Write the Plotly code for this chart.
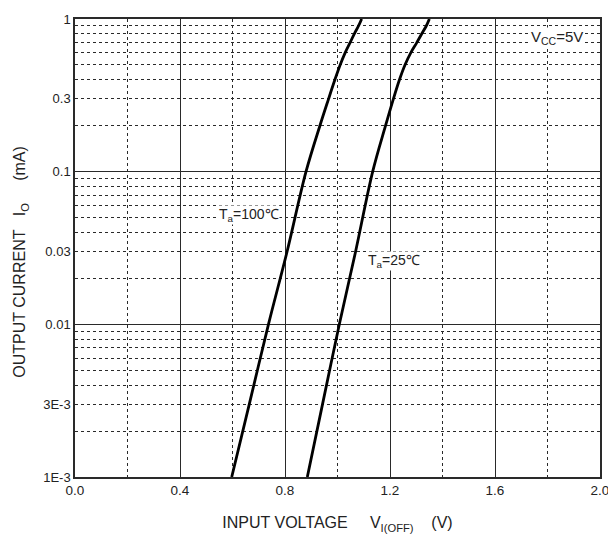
import math
import plotly.graph_objects as go

# Output current (mA) sample points
current_ma = [0.001, 0.003, 0.01, 0.03, 0.1, 0.2, 0.3, 0.4, 0.5, 0.6, 0.7, 0.8, 0.9, 1.0]
# Input voltage (V) for Ta = 100 C and Ta = 25 C
v_ta100 = [0.597, 0.664, 0.737, 0.808, 0.880, 0.933, 0.966, 0.990, 1.010, 1.029, 1.048, 1.064, 1.080, 1.092]
v_ta25 = [0.885, 0.943, 1.007, 1.069, 1.134, 1.183, 1.213, 1.236, 1.257, 1.279, 1.302, 1.321, 1.338, 1.350]

y_tickvals = [0.001, 0.003, 0.01, 0.03, 0.1, 0.3, 1]
y_ticktext = ["1E-3", "3E-3", "0.01", "0.03", "0.1", "0.3", "1"]
y_decades = [0.001, 0.01, 0.1, 1]
y_minor = [m * d for d in [0.001, 0.01, 0.1] for m in range(2, 10)]
x_tickvals = [0.0, 0.4, 0.8, 1.2, 1.6, 2.0]
x_ticktext = ["0.0", "0.4", "0.8", "1.2", "1.6", "2.0"]

FONT = "Liberation Sans, Arial, sans-serif"
GRID = "#2a2a2a"
TXT = "#222222"
NB = "\u00a0"

fig = go.Figure()
fig.add_trace(go.Scatter(x=v_ta100, y=current_ma, mode="lines",
                         line=dict(color="black", width=2.8, shape="spline", smoothing=1.0),
                         showlegend=False, hoverinfo="skip", yaxis="y"))
fig.add_trace(go.Scatter(x=v_ta25, y=current_ma, mode="lines",
                         line=dict(color="black", width=2.8, shape="spline", smoothing=1.0),
                         showlegend=False, hoverinfo="skip", yaxis="y2"))

yrange = [-3, 0]
fig.update_layout(
    width=608, height=535,
    margin=dict(l=75, r=8, t=19, b=58),
    paper_bgcolor="white", plot_bgcolor="white",
    font=dict(family=FONT, size=13, color=TXT),
    xaxis=dict(
        range=[0, 2.0], tickmode="array", tickvals=x_tickvals, ticktext=x_ticktext,
        showgrid=True, gridcolor=GRID, gridwidth=1.3,
        minor=dict(dtick=0.2, showgrid=True, gridcolor=GRID, griddash="dot", gridwidth=1.3),
        showline=True, linecolor=GRID, linewidth=1.5, mirror=True,
        ticks="", zeroline=False, automargin=False, ticklabeloverflow="allow",
        tickfont=dict(size=13.5, color=TXT),
        title=dict(text="INPUT VOLTAGE" + NB * 5 + "V<sub>I(OFF)</sub>" + NB * 4 + "(V)",
                   font=dict(size=16, color=TXT), standoff=20),
    ),
    yaxis=dict(
        type="log", range=yrange, tickmode="array", tickvals=y_tickvals, ticktext=y_ticktext,
        showgrid=False,
        minor=dict(tickmode="array", tickvals=y_minor, showgrid=True,
                   gridcolor=GRID, griddash="dot", gridwidth=1.3),
        showline=True, linecolor=GRID, linewidth=1.5, mirror=True,
        ticks="", zeroline=False, automargin=False,
        tickfont=dict(size=13, color=TXT),
    ),
    yaxis2=dict(
        type="log", range=yrange, overlaying="y", side="left",
        tickmode="array", tickvals=y_decades, showticklabels=False,
        showgrid=True, gridcolor=GRID, gridwidth=1.3, ticks="", zeroline=False,
        automargin=False,
    ),
)

# y-axis title (placed as rotated text, slightly below the plot centre as in the reference)
fig.add_annotation(x=-0.103, y=0.47, xref="paper", yref="paper",
                   text="OUTPUT CURRENT" + NB * 3 + "I<sub>O</sub>" + NB * 5 + "(mA)",
                   textangle=-90, showarrow=False, xanchor="center", yanchor="middle",
                   font=dict(family=FONT, size=16, color=TXT))

ann_font = dict(family=FONT, size=14, color=TXT)
fig.add_annotation(x=0.782, y=math.log10(0.052), xref="x", yref="y", text="T<sub>a</sub>=100\u2103",
                   showarrow=False, xanchor="right", font=ann_font, bgcolor="white", borderpad=0)
fig.add_annotation(x=1.112, y=math.log10(0.026), xref="x", yref="y", text="T<sub>a</sub>=25\u2103",
                   showarrow=False, xanchor="left", font=ann_font, bgcolor="white", borderpad=0)
fig.add_annotation(x=1.94, y=math.log10(0.76), xref="x", yref="y", text="V<sub>CC</sub>=5V",
                   showarrow=False, xanchor="right", font=dict(family=FONT, size=15, color=TXT),
                   bgcolor="white", borderpad=0)

fig.write_html("out.html", config={"displayModeBar": False},
               post_script="document.body.style.margin='0';")
